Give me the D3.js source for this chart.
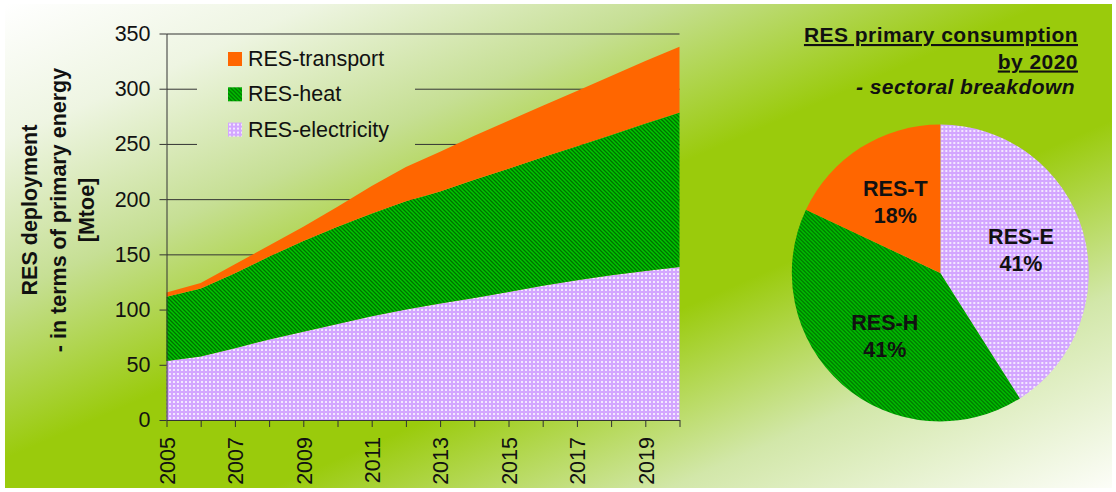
<!DOCTYPE html>
<html>
<head>
<meta charset="utf-8">
<script src="https://cdn.jsdelivr.net/npm/d3@7"></script>
<style>
  html, body { margin: 0; padding: 0; background: #ffffff; }
  svg { display: block; font-family: "Liberation Sans", Arial, Helvetica, sans-serif; }
</style>
</head>
<body>
<svg id="chart" width="1116" height="492"></svg>
<script>
// RES deployment by sector, Mtoe
const years = [2005, 2006, 2007, 2008, 2009, 2010, 2011, 2012, 2013, 2014, 2015, 2016, 2017, 2018, 2019, 2020];
const electricity = [53.5, 57.5, 65, 73, 80, 87, 94, 100, 105.5, 110.5, 116, 121.5, 126.5, 131, 135, 138.5];
const heat        = [58, 61.5, 68, 75, 82, 88, 93, 98, 101.5, 107, 111.5, 116.5, 121.5, 127, 133.5, 140];
const transport   = [4, 5, 8, 10, 13, 18, 25, 31, 36, 40, 43.5, 46.5, 50, 53.5, 56.5, 59.5];

const yTickValues = [0, 50, 100, 150, 200, 250, 300, 350];
const xTickLabels = [2005, 2007, 2009, 2011, 2013, 2015, 2017, 2019];

const seriesKeys = ["electricity", "heat", "transport"];
const legendLabels = ["RES-transport", "RES-heat", "RES-electricity"];
const legendKeys = ["transport", "heat", "electricity"];

// 2020 sectoral shares, %
const pieNames = ["RES-E", "RES-H", "RES-T"];
const pieShares = [41, 41, 18];
const pieKeys = ["electricity", "heat", "transport"];

const titleLines = ["RES primary consumption", "by 2020", "- sectoral breakdown"];
const yTitleLines = ["RES deployment", "- in terms of primary energy", "[Mtoe]"];

const W = 1116, H = 492;
const svg = d3.select("#chart");
const defs = svg.append("defs");

// background: white -> lime -> white along the diagonal
const bg = defs.append("linearGradient").attr("id", "bgGrad")
  .attr("x1", 0).attr("y1", 0).attr("x2", 1).attr("y2", 1);
[[0, "#ffffff"], [0.14, "#eef5e2"], [0.3, "#c6df94"], [0.47, "#9acb0c"],
 [0.62, "#9acb0c"], [0.8, "#d2e7a9"], [1, "#fcfdf8"]]
  .forEach(([o, c]) => bg.append("stop").attr("offset", o).attr("stop-color", c));

// fills: heat = diagonal stripes, electricity = dotted lilac
const heatPat = defs.append("pattern").attr("id", "heatPat")
  .attr("patternUnits", "userSpaceOnUse").attr("width", 4).attr("height", 4);
heatPat.append("rect").attr("width", 4).attr("height", 4).attr("fill", "#007200");
heatPat.append("path")
  .attr("d", "M-1,-1L5,5M-1,3L1,5M3,-1L5,1")
  .attr("stroke", "#00c400").attr("stroke-width", 1.5).attr("fill", "none");

const elecPat = defs.append("pattern").attr("id", "elecPat")
  .attr("patternUnits", "userSpaceOnUse").attr("width", 4).attr("height", 4);
elecPat.append("rect").attr("width", 4).attr("height", 4).attr("fill", "#d3a6ff");
elecPat.append("rect").attr("x", 1).attr("y", 1).attr("width", 2).attr("height", 2).attr("fill", "#f3e8ff");

const fills = { electricity: "url(#elecPat)", heat: "url(#heatPat)", transport: "#ff6600" };

svg.append("rect").attr("x", 5).attr("y", 4).attr("width", W - 9).attr("height", H - 8)
  .attr("fill", "url(#bgGrad)");

// ---- stacked area chart ----
const x = d3.scaleLinear().domain([years[0], years[years.length - 1]]).range([166.5, 679.5]);
const y = d3.scaleLinear().domain([0, 350]).range([420, 33.5]);

const table = years.map((yr, i) => ({
  year: yr, electricity: electricity[i], heat: heat[i], transport: transport[i]
}));
const stacked = d3.stack().keys(seriesKeys)(table);

// legend placement (used for the grid mask too)
const legendX = 228, legendY = 52, legendStep = 35.3, sw = 14;

const mask = defs.append("mask").attr("id", "gridMask");
mask.append("rect").attr("width", W).attr("height", H).attr("fill", "#fff");
mask.append("rect").attr("x", legendX - 31).attr("y", legendY - 12)
  .attr("width", 218).attr("height", 108).attr("fill", "#000");

svg.append("g").attr("mask", "url(#gridMask)")
  .selectAll("line").data(yTickValues.filter(v => v > 0)).join("line")
  .attr("x1", x(years[0])).attr("x2", x(years[years.length - 1]))
  .attr("y1", d => y(d) + 0.5).attr("y2", d => y(d) + 0.5)
  .attr("stroke", "#333").attr("stroke-width", 1);

const area = d3.area()
  .x(d => x(d.data.year))
  .y0(d => y(d[0]))
  .y1(d => y(d[1]));

svg.append("g").selectAll("path").data(stacked).join("path")
  .attr("d", area)
  .attr("fill", d => fills[d.key]);

// axes
const yAxis = svg.append("g").attr("transform", `translate(${x(years[0])},0)`)
  .call(d3.axisLeft(y).tickValues(yTickValues).tickSize(7).tickSizeOuter(0).tickPadding(9));
yAxis.selectAll("text").attr("font-size", 21.5).attr("fill", "#111")
  .attr("font-family", "'Liberation Sans', Arial, sans-serif");
yAxis.selectAll("line, path").attr("stroke", "#333");

const xAxis = svg.append("g").attr("transform", `translate(0,${y(0)})`)
  .call(d3.axisBottom(x).tickValues(years).tickSize(7).tickSizeOuter(0)
    .tickFormat(d => xTickLabels.includes(d) ? String(d) : ""));
xAxis.selectAll("line, path").attr("stroke", "#333");
xAxis.selectAll("text")
  .attr("transform", "rotate(-90)")
  .attr("x", -17).attr("y", 0).attr("dy", "0.36em")
  .attr("text-anchor", "end")
  .attr("font-size", 21.5).attr("fill", "#111")
  .attr("font-family", "'Liberation Sans', Arial, sans-serif");

// y-axis title
const yTitle = svg.append("g").attr("transform", "translate(0,210) rotate(-90)");
yTitle.selectAll("text").data(yTitleLines).join("text")
  .attr("x", 0).attr("y", (d, i) => 37 + i * 28.7)
  .attr("text-anchor", "middle")
  .attr("font-size", 21.5).attr("font-weight", "bold").attr("fill", "#111")
  .text(d => d);

// legend
const legend = svg.append("g").attr("transform", `translate(${legendX},${legendY})`);
const items = legend.selectAll("g").data(legendKeys).join("g")
  .attr("transform", (d, i) => `translate(0,${i * legendStep})`);
items.append("rect").attr("width", sw).attr("height", sw).attr("fill", d => fills[d]);
items.append("text").attr("x", 20).attr("y", sw)
  .attr("font-size", 21.5).attr("fill", "#111")
  .text((d, i) => legendLabels[i]);

// ---- pie ----
const cx = 940.3, cy = 273, R = 148.5;
const pie = d3.pie().sort(null).value(d => d)(pieShares);
const arc = d3.arc().innerRadius(0).outerRadius(R);
const labelArc = d3.arc().innerRadius(84).outerRadius(84);

const pg = svg.append("g").attr("transform", `translate(${cx},${cy})`);
pg.selectAll("path").data(pie).join("path")
  .attr("d", arc)
  .attr("fill", (d, i) => fills[pieKeys[i]]);

const pl = pg.selectAll("g.lbl").data(pie).join("g").attr("class", "lbl")
  .attr("transform", d => `translate(${labelArc.centroid(d)})`);
pl.append("text").attr("text-anchor", "middle").attr("y", -5.6)
  .attr("font-size", 21.5).attr("font-weight", "bold").attr("fill", "#111")
  .text((d, i) => pieNames[i]);
pl.append("text").attr("text-anchor", "middle").attr("y", 21.1)
  .attr("font-size", 21.5).attr("font-weight", "bold").attr("fill", "#111")
  .text(d => d.data + "%");

// title
const title = svg.append("g");
title.append("text").attr("x", 1078).attr("y", 42)
  .attr("text-anchor", "end").attr("font-size", 21).attr("font-weight", "bold")
  .attr("letter-spacing", 0.45).attr("text-decoration", "underline").attr("fill", "#111")
  .text(titleLines[0]);
title.append("text").attr("x", 1078).attr("y", 68.5)
  .attr("text-anchor", "end").attr("font-size", 21).attr("font-weight", "bold")
  .attr("letter-spacing", 0.45).attr("text-decoration", "underline").attr("fill", "#111")
  .text(titleLines[1]);
title.append("text").attr("x", 1075).attr("y", 94)
  .attr("text-anchor", "end").attr("font-size", 21).attr("font-weight", "bold")
  .attr("font-style", "italic").attr("letter-spacing", 0.45).attr("fill", "#111")
  .text(titleLines[2]);
</script>
</body>
</html>
